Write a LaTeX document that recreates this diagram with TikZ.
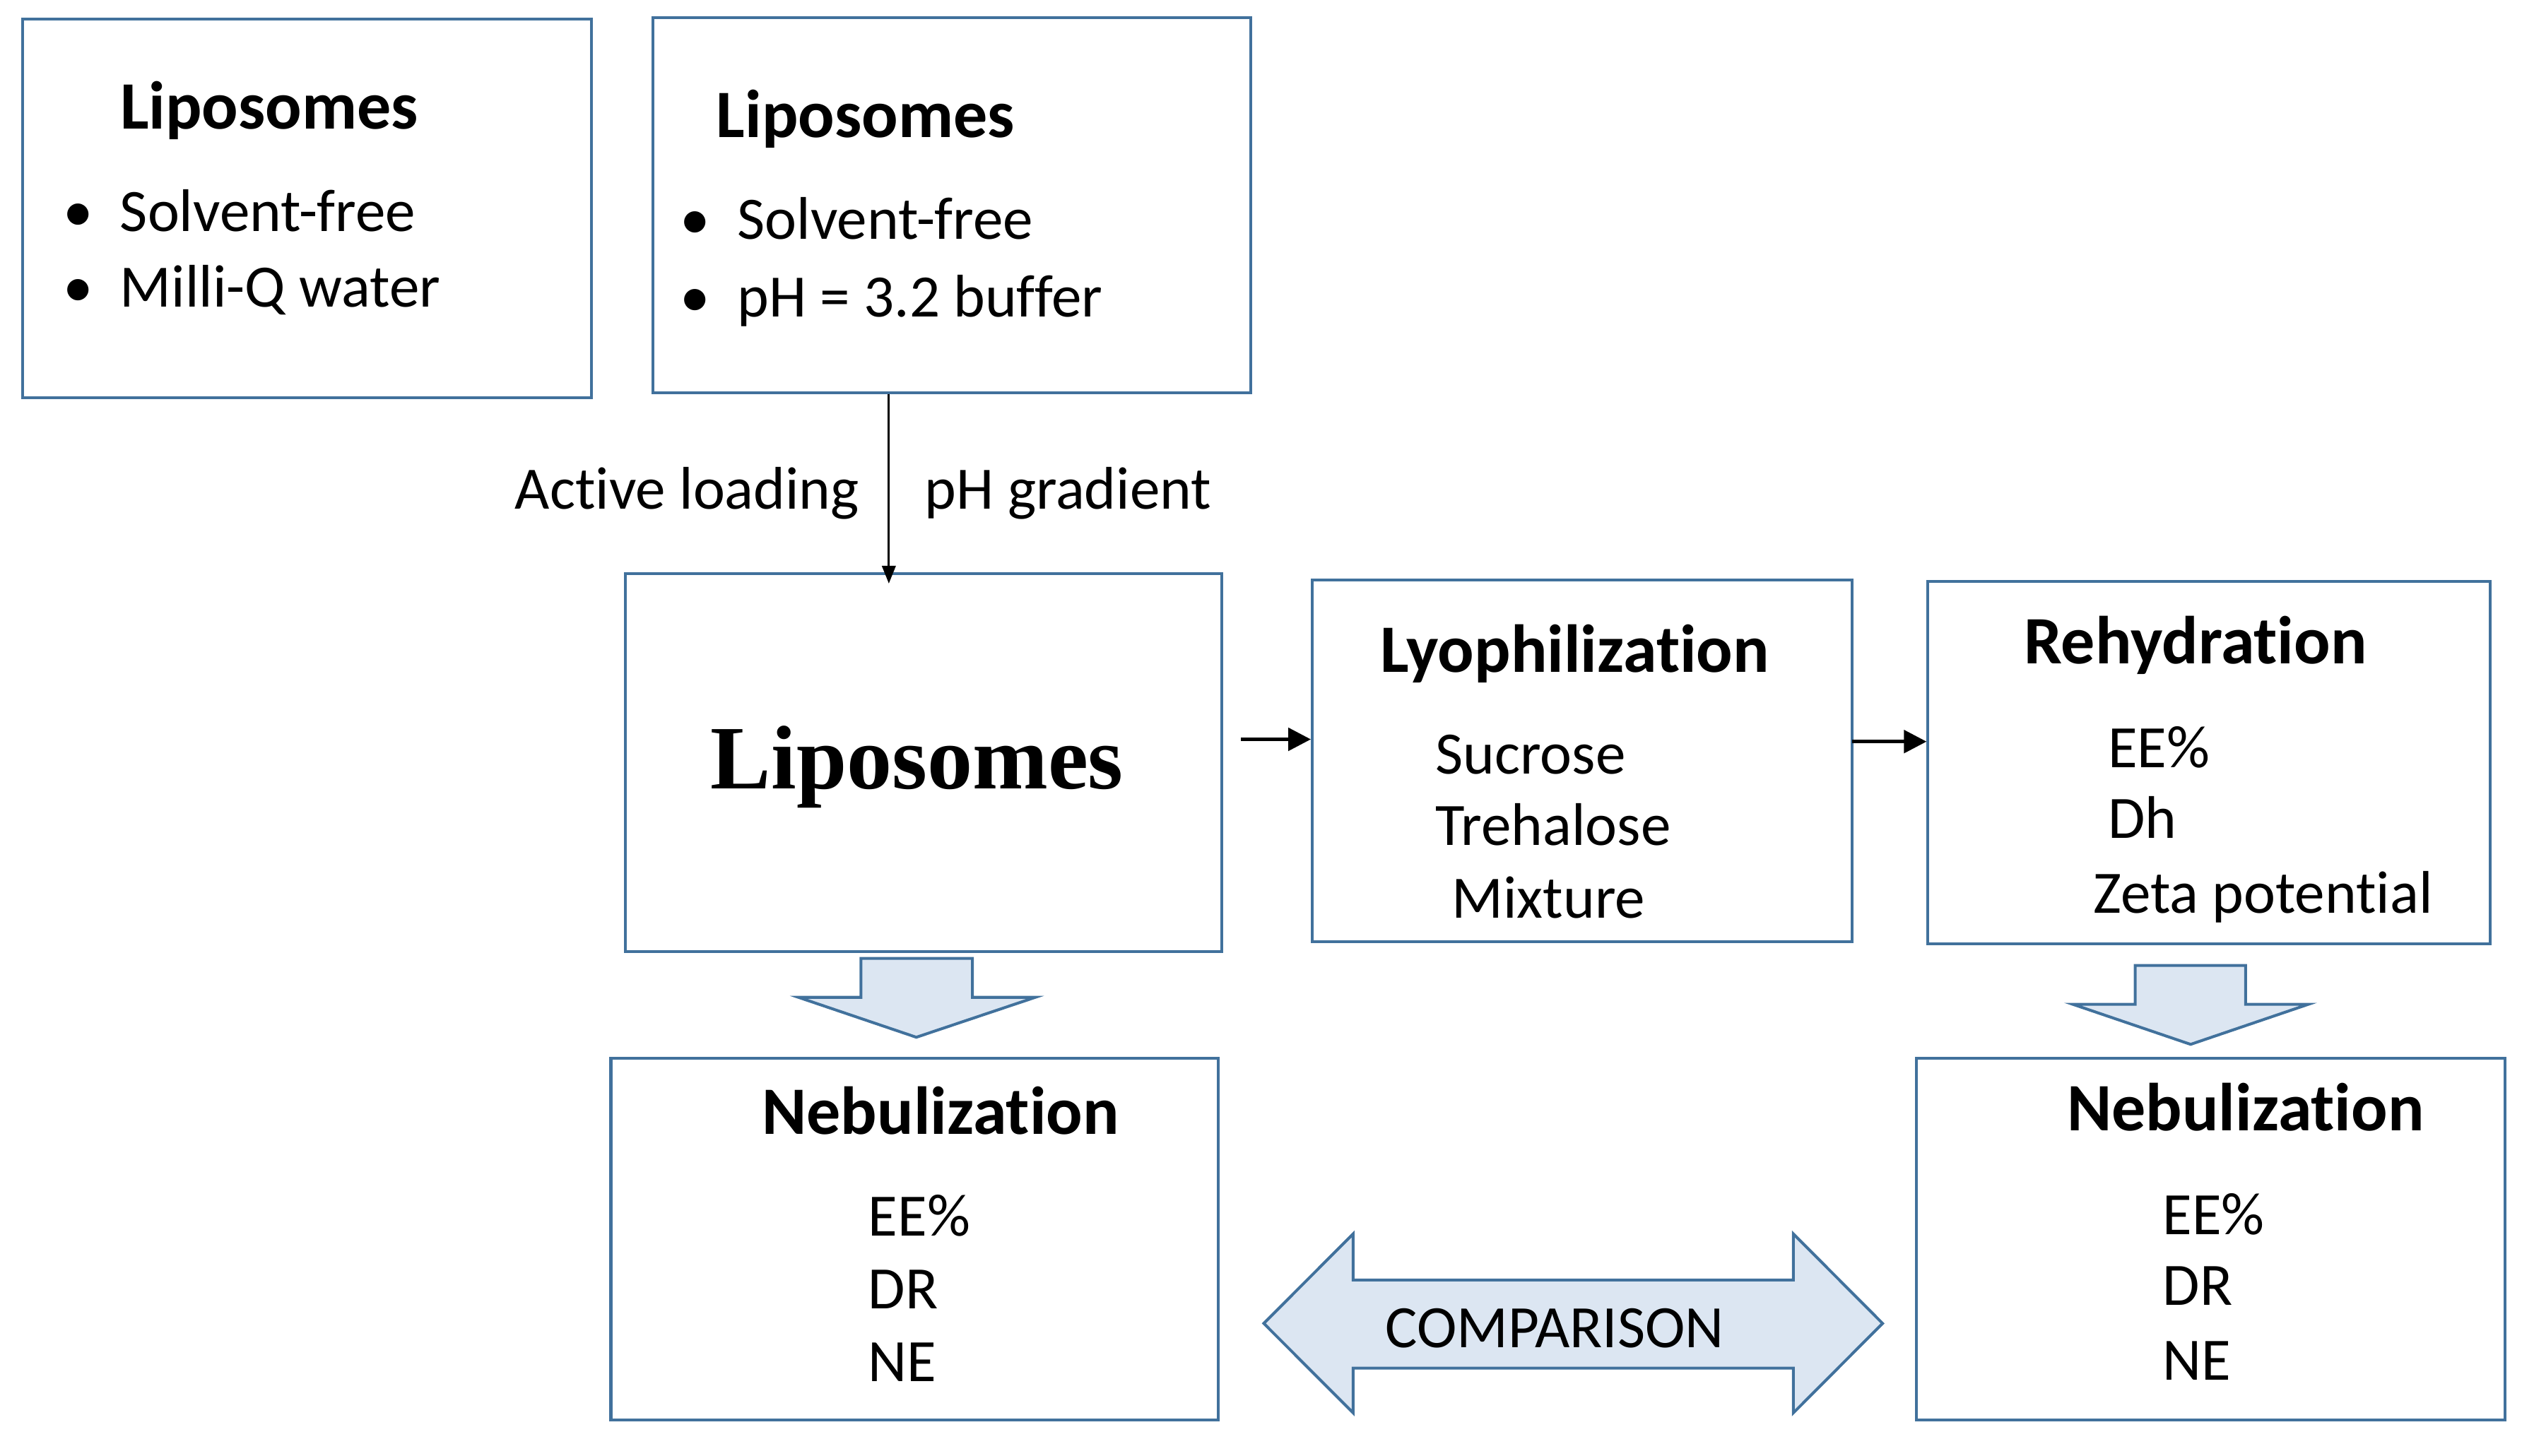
\documentclass[tikz,border=0pt]{standalone}
\usepackage{fontspec}
\setmainfont{Carlito}[Ligatures=NoCommon]
\newfontfamily\timesbold{Liberation Serif}
\usetikzlibrary{arrows.meta, positioning, calc}
\definecolor{edge}{HTML}{41719C}
\definecolor{pale}{HTML}{DCE6F2}
\newcommand{\bulletitem}[1]{\llap{\textbullet\hspace{0.45em}}#1}

\begin{document}
\begin{tikzpicture}[x=0.02cm, y=-0.02cm,
      pbox/.style 2 args={rectangle, draw=edge, line width=1pt,
                  minimum width=#1*0.02cm, minimum height=#2*0.02cm, inner sep=0pt},
      body/.style={font=\fontsize{21.2}{25}\selectfont, inner sep=0pt},
      head/.style={font=\fontsize{23.9}{28}\selectfont\bfseries, inner sep=0pt, anchor=base},
      item/.style={body, anchor=base west},
      blk/.style={draw=edge, fill=pale, line width=1pt, line join=miter},
      arr/.style={-{Triangle[length=0.28cm, width=0.28cm]}, line width=1.3pt},
      thinarr/.style={-{Triangle[length=0.22cm, width=0.17cm]}, line width=0.7pt}]
  \useasboundingbox (0,0) rectangle (1568,901);

  % boxes
  \node[pbox={352}{234}] (lipoW) at (190,129) {};
  \node[pbox={370}{232}] (lipoB) at (589,127) {};
  \node[pbox={369}{234}] (lipo) at (571.5,472) {};
  \node[pbox={334}{224}] (lyo) at (979,471) {};
  \node[pbox={348}{224}] (rehy) at (1367,472) {};
  \node[pbox={376}{224}] (nebA) at (566,767) {};
  \node[pbox={364}{224}] (nebB) at (1368,767) {};

  % texts
  \node[head, anchor=base west] (tW) at (74,80) {Liposomes};
  \node[item] (w1) at (74,143) {\bulletitem{Solvent-free}};
  \node[item] (w2) at (74,190) {\bulletitem{Milli-Q water}};
  \node[head, anchor=base west] (tB) at (443,85) {Liposomes};
  \node[item] (b1) at (456,148) {\bulletitem{Solvent-free}};
  \node[item] (b2) at (456,196) {\bulletitem{pH = 3.2 buffer}};
  \node[body, anchor=base east] (act) at (532,315) {Active loading};
  \node[body, anchor=base west] (grad) at (572,315) {pH gradient};
  \node[inner sep=0pt, anchor=base, font=\timesbold\fontsize{31.9}{36}\selectfont\bfseries]
    (tL) at (567.5,488) {Liposomes};
  \node[head] (tLyo) at (974.5,416) {Lyophilization};
  \node[item] (s1) at (888,479) {Sucrose};
  \node[item] (s2) at (888,523) {Trehalose};
  \node[item] (s3) at (898,568) {Mixture};
  \node[head] (tR) at (1358.5,411) {Rehydration};
  \node[item] (r1) at (1304,475) {EE\%};
  \node[item] (r2) at (1304,519) {Dh};
  \node[item] (r3) at (1295,565) {Zeta potential};
  \node[head] (tNA) at (582,702) {Nebulization};
  \node[item] (na1) at (537,765) {EE\%};
  \node[item] (na2) at (537,810) {DR};
  \node[item] (na3) at (537,855) {NE};
  \node[head] (tNB) at (1389.5,700) {Nebulization};
  \node[item] (nb1) at (1338,764) {EE\%};
  \node[item] (nb2) at (1338,808) {DR};
  \node[item] (nb3) at (1338,854) {NE};

  % connectors
  \coordinate (a0) at (550,0);
  \coordinate (a1) at (768,457.6);
  \coordinate (a2) at (1146,459);
  \draw[thinarr] (a0 |- lipoB.south) -- ([yshift=-4] a0 |- lipo.north);
  \draw[arr] (a1) -- (a1 -| lyo.west);
  \draw[arr] (a2) -- (a2 -| rehy.west);

  % block arrows
  \draw[blk] (532.7,593.2) -- (601.7,593.2) -- (601.7,617.3) -- (640.6,617.3)
    -- (567,642) -- (494.1,617.3) -- (532.7,617.3) -- cycle;
  \draw[blk] (1321.2,597.6) -- (1389.5,597.6) -- (1389.5,621.6) -- (1428.4,621.6)
    -- (1355.5,646.4) -- (1282.6,621.6) -- (1321.2,621.6) -- cycle;
  \draw[blk] (782,819.1) -- (837.3,763.7) -- (837.3,792.2) -- (1109.7,792.2)
    -- (1109.7,763.7) -- (1164.9,819.1) -- (1109.7,874.5) -- (1109.7,846.8)
    -- (837.3,846.8) -- (837.3,874.5) -- cycle;
  \node[body, anchor=base] (cmp) at (962,834) {COMPARISON};
\end{tikzpicture}
\end{document}
